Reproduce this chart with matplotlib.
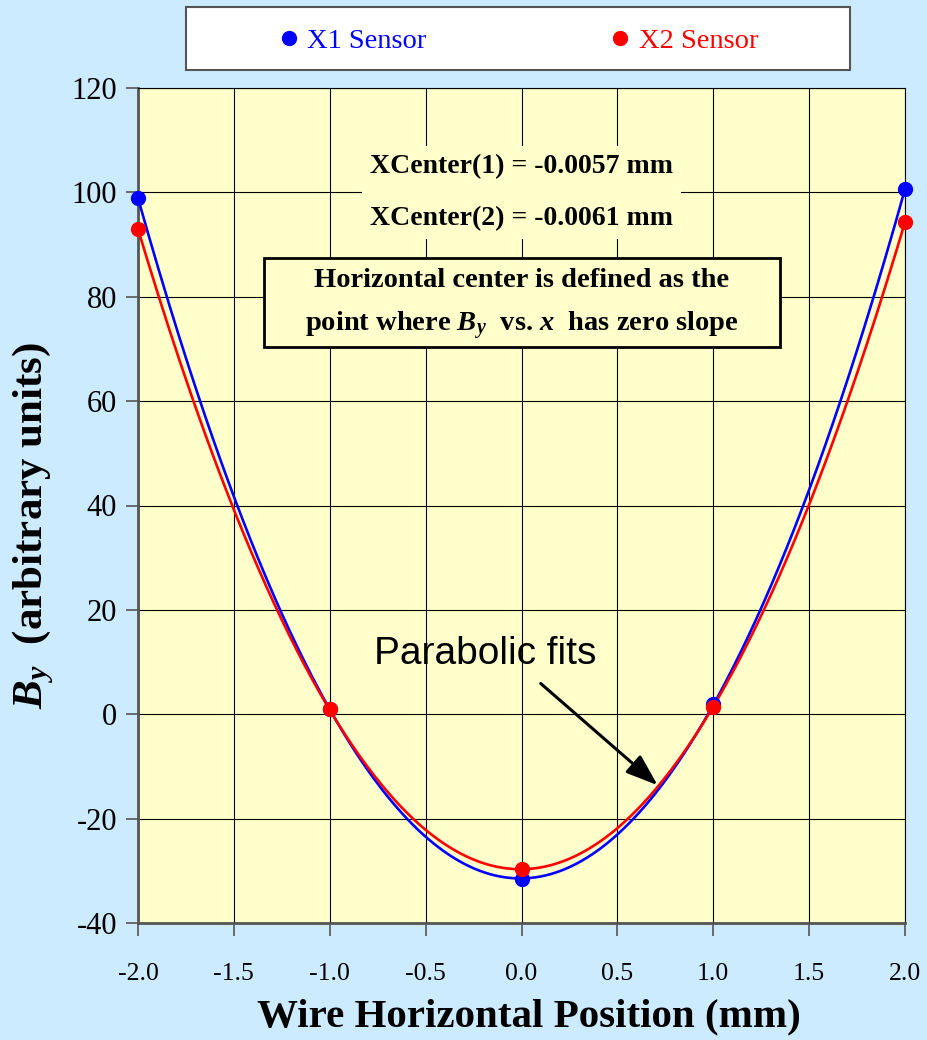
import numpy as np
import matplotlib.pyplot as plt
from matplotlib.lines import Line2D
from matplotlib.patches import Rectangle

# wire position (mm) and measured By for the two sensors
wire_pos = [-2.0, -1.0, 0.0, 1.0, 2.0]
x1_sensor = [98.9, 1.0, -31.6, 1.9, 100.6]
x2_sensor = [92.9, 1.0, -29.7, 1.3, 94.4]

x_ticks = [-2.0, -1.5, -1.0, -0.5, 0.0, 0.5, 1.0, 1.5, 2.0]
y_ticks = [-40, -20, 0, 20, 40, 60, 80, 100, 120]

xcenter_text = "XCenter(1) = -0.0057 mm\n\nXCenter(2) = -0.0061 mm"

plt.rcParams['font.family'] = ['Liberation Serif', 'DejaVu Serif']
plt.rcParams['mathtext.fontset'] = 'custom'
plt.rcParams['mathtext.rm'] = 'Liberation Serif:bold'
plt.rcParams['mathtext.it'] = 'Liberation Serif:italic:bold'
plt.rcParams['mathtext.bf'] = 'Liberation Serif:bold'

bg = '#CCEBFF'
plot_bg = '#FFFFCC'

fig = plt.figure(figsize=(9.27, 10.4), dpi=100, facecolor=bg)
ax = fig.add_axes([138 / 927, 1 - 923 / 1040, 767 / 927, 835 / 1040])
ax.set_facecolor(plot_bg)

# parabolic fits
xs = np.linspace(-2, 2, 300)
p1 = np.polyfit(wire_pos, x1_sensor, 2)
p2 = np.polyfit(wire_pos, x2_sensor, 2)
ax.plot(xs, np.polyval(p1, xs), color='blue', lw=1.9, zorder=3)
ax.plot(xs, np.polyval(p2, xs), color='red', lw=1.9, zorder=3)
ax.plot(wire_pos, x1_sensor, 'o', color='blue', ms=10, zorder=4, clip_on=False)
ax.plot(wire_pos, x2_sensor, 'o', color='red', ms=10, zorder=5, clip_on=False)

ax.set_xlim(-2, 2)
ax.set_ylim(-40, 120)
ax.set_xticks(x_ticks)
ax.set_xticklabels([f"{v:.1f}" for v in x_ticks], fontsize=18.5)
ax.set_yticks(y_ticks)
ax.set_yticklabels([str(v) for v in y_ticks], fontsize=22)
ax.tick_params(axis='x', direction='out', length=9, width=1.2, color='#555555', pad=20)
ax.tick_params(axis='y', direction='out', length=9, width=1.2, color='#555555', pad=6)
ax.grid(True, color='black', lw=0.8, zorder=1)
ax.set_axisbelow(True)

for s in ['left', 'bottom']:
    ax.spines[s].set_color('#555555')
    ax.spines[s].set_linewidth(2)
for s in ['top', 'right']:
    ax.spines[s].set_color('black')
    ax.spines[s].set_linewidth(0.8)

ax.set_xlabel('Wire Horizontal Position (mm)', fontsize=29.5, fontweight='bold')
ax.set_ylabel(r'$B_y$  (arbitrary units)', fontsize=31, fontweight='bold')
ax.xaxis.set_label_coords(0.51, -0.0898)
ax.yaxis.set_label_coords(-0.1066, 0.476)

# annotations
ax.text(0.0, 100.0, xcenter_text, ha='center', va='center', fontsize=20,
        fontweight='bold', linespacing=1.05, zorder=6,
        bbox=dict(facecolor=plot_bg, edgecolor='none', pad=6))
ax.add_patch(Rectangle((-1.343, 70.3), 2.691, 17.2, facecolor=plot_bg,
                       edgecolor='black', lw=2, zorder=6))
ax.text(0.0, 78.5, 'Horizontal center is defined as the\n'
        r'point where $B_{y}$  vs. $x$  has zero slope',
        ha='center', va='center', fontsize=20.5, fontweight='bold', linespacing=1.75,
        zorder=7)

ax.text(-0.19, 11.5, 'Parabolic fits', ha='center', va='center', fontsize=28,
        family=['Liberation Sans Narrow', 'Liberation Sans'], zorder=6)
ax.annotate('', xy=(0.71, -13.6), xytext=(0.10, 5.9), zorder=6,
            arrowprops=dict(arrowstyle='-|>,head_length=0.7,head_width=0.25', lw=2.2,
                            color='black', mutation_scale=28, shrinkA=0, shrinkB=0))

# legend box at the top
fig.patches.append(Rectangle((186 / 927, 1 - 70 / 1040), 664 / 927, 63 / 1040,
                             transform=fig.transFigure, facecolor='white',
                             edgecolor='#555555', lw=1.5))
handles = [Line2D([], [], marker='o', ls='none', color='blue', ms=10),
           Line2D([], [], marker='o', ls='none', color='red', ms=10)]
fig.legend(handles, ['X1 Sensor', 'X2 Sensor'], loc='center',
           bbox_to_anchor=(518 / 927, 1 - 41 / 1040), ncol=2, frameon=False,
           fontsize=20.5, handlelength=0.8, handletextpad=0.26, columnspacing=6.4,
           labelcolor='markerfacecolor')

plt.savefig('out.png', dpi=100, facecolor=bg)
